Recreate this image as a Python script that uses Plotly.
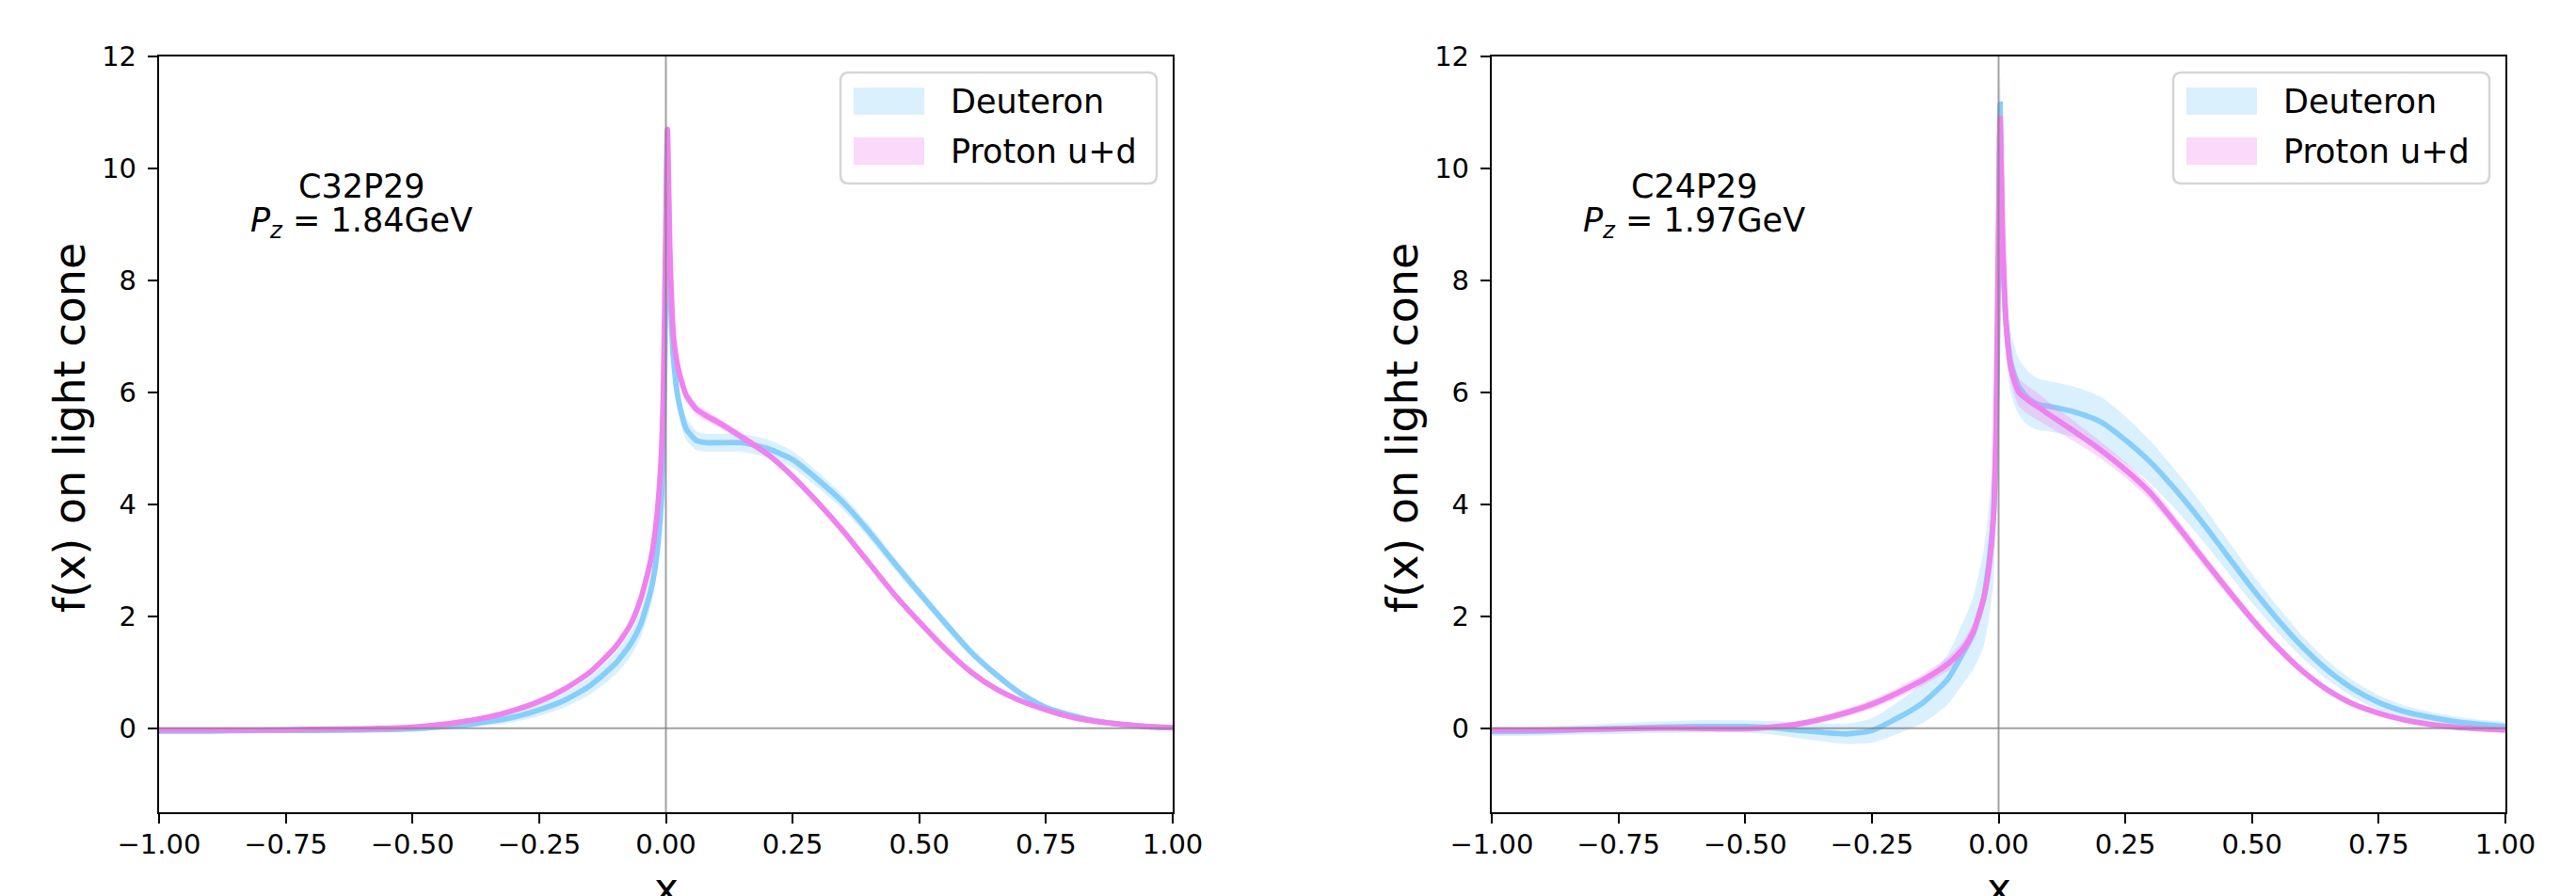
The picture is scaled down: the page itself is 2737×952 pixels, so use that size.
import numpy as np
import plotly.graph_objects as go

# ---------------- data ----------------
X = [-1.0, -0.9, -0.8, -0.7, -0.6, -0.5, -0.45, -0.4, -0.35, -0.3, -0.25, -0.2, -0.15, -0.1,
     -0.07, -0.05, -0.03, -0.02, -0.01, -0.005, 0.0, 0.003, 0.008, 0.015, 0.025, 0.04, 0.06,
     0.08, 0.1, 0.15, 0.2, 0.25, 0.3, 0.35, 0.4, 0.45, 0.5, 0.55, 0.6, 0.65, 0.7, 0.75, 0.8,
     0.85, 0.9, 0.95, 1.0]

# Left panel: C32P29, Pz = 1.84 GeV
DEUT_L = [-0.05, -0.05, -0.04, -0.04, -0.03, -0.01, 0.02, 0.06, 0.12, 0.2, 0.33, 0.5, 0.76, 1.15,
          1.5, 1.85, 2.45, 2.95, 3.9, 5.0, 8.0, 10.4, 8.0, 6.6, 5.85, 5.35, 5.14,
          5.1, 5.1, 5.1, 5.0, 4.8, 4.44, 4.03, 3.52, 2.96, 2.42, 1.89, 1.38, 0.97, 0.62, 0.37, 0.23,
          0.13, 0.07, 0.03, 0.01]
DEUT_L_ERR = [0.03, 0.03, 0.03, 0.03, 0.03, 0.03, 0.04, 0.05, 0.07, 0.09, 0.11, 0.13, 0.16, 0.2,
              0.22, 0.24, 0.28, 0.3, 0.3, 0.3, 0.3, 0.25, 0.3, 0.3, 0.25, 0.2, 0.17,
              0.16, 0.16, 0.16, 0.16, 0.15, 0.14, 0.13, 0.12, 0.11, 0.1, 0.09, 0.08, 0.07, 0.06, 0.05, 0.04,
              0.03, 0.03, 0.02, 0.02]
PROT_L = [-0.03, -0.03, -0.03, -0.02, -0.01, 0.02, 0.06, 0.12, 0.2, 0.32, 0.48, 0.7, 1.0, 1.45,
          1.85, 2.3, 3.0, 3.6, 4.7, 6.0, 9.0, 10.7, 8.5, 7.0, 6.4, 5.95, 5.7,
          5.58, 5.48, 5.2, 4.9, 4.5, 4.03, 3.52, 2.96, 2.4, 1.9, 1.43, 1.02, 0.71, 0.49, 0.33, 0.2,
          0.12, 0.07, 0.03, 0.01]
PROT_L_ERR = [0.02, 0.02, 0.02, 0.02, 0.02, 0.02, 0.02, 0.03, 0.03, 0.03, 0.04, 0.04, 0.05, 0.05,
              0.06, 0.06, 0.07, 0.08, 0.08, 0.08, 0.08, 0.08, 0.1, 0.1, 0.1, 0.1, 0.1,
              0.09, 0.08, 0.07, 0.06, 0.06, 0.05, 0.05, 0.05, 0.05, 0.04, 0.04, 0.04, 0.03, 0.03, 0.03, 0.02,
              0.02, 0.02, 0.02, 0.02]

# Right panel: C24P29, Pz = 1.97 GeV
DEUT_R = [-0.06, -0.05, -0.02, 0.01, 0.03, 0.03, 0.01, -0.03, -0.07, -0.1, -0.04, 0.18, 0.45, 0.88,
          1.35, 1.7, 2.3, 2.9, 3.8, 5.0, 8.5, 11.15, 8.6, 7.2, 6.5, 6.1, 5.88,
          5.78, 5.75, 5.65, 5.48, 5.15, 4.75, 4.25, 3.7, 3.1, 2.5, 1.95, 1.45, 1.03, 0.7, 0.46, 0.3,
          0.2, 0.12, 0.07, 0.03]
DEUT_R_ERR = [0.08, 0.08, 0.09, 0.1, 0.11, 0.11, 0.12, 0.14, 0.16, 0.18, 0.22, 0.28, 0.36, 0.45,
              0.55, 0.65, 0.85, 1.0, 1.2, 1.3, 1.0, 0.5, 0.6, 0.6, 0.55, 0.5, 0.48,
              0.46, 0.45, 0.45, 0.45, 0.42, 0.38, 0.35, 0.32, 0.29, 0.26, 0.23, 0.2, 0.17, 0.15, 0.13, 0.11,
              0.1, 0.09, 0.08, 0.07]
PROT_R = [-0.03, -0.03, -0.02, 0.0, 0.0, -0.01, 0.02, 0.07, 0.16, 0.28, 0.43, 0.63, 0.86, 1.15,
          1.42, 1.72, 2.3, 2.8, 3.8, 5.5, 9.0, 10.9, 8.8, 7.2, 6.4, 6.0, 5.85,
          5.73, 5.6, 5.3, 4.98, 4.62, 4.2, 3.65, 3.07, 2.5, 1.95, 1.45, 1.02, 0.68, 0.43, 0.27, 0.15,
          0.07, 0.02, -0.01, -0.03]
PROT_R_ERR = [0.03, 0.03, 0.03, 0.03, 0.03, 0.03, 0.04, 0.05, 0.06, 0.07, 0.08, 0.09, 0.1, 0.12,
              0.14, 0.16, 0.18, 0.2, 0.2, 0.2, 0.2, 0.15, 0.25, 0.25, 0.25, 0.25, 0.25,
              0.24, 0.22, 0.18, 0.15, 0.14, 0.13, 0.12, 0.11, 0.1, 0.09, 0.08, 0.07, 0.06, 0.05, 0.05, 0.04,
              0.04, 0.04, 0.04, 0.04]

PANEL_LABELS = ["C32P29", "C24P29"]
PZ_VALUES = ["1.84", "1.97"]
SERIES_NAMES = ["Deuteron", "Proton u+d"]
X_TICKS = [-1.0, -0.75, -0.5, -0.25, 0.0, 0.25, 0.5, 0.75, 1.0]
Y_TICKS = [0, 2, 4, 6, 8, 10, 12]

# ---------------- styling ----------------
WIN_W, WIN_H = 2737, 952
BODY = 8                      # default page margin of the browser
W, H = WIN_W - BODY, WIN_H - BODY
FONT = "DejaVu Sans"
LINE_COLORS = ["#87CEFA", "#EE82EE"]
FILL_COLORS = ["rgba(135,206,250,0.3)", "rgba(238,130,238,0.3)"]
AX_PX = [(169, 1246), (1585, 2662)]   # window pixels
TOP_PX, BOT_PX = 60, 863


def px(v):
    return (v - BODY) / W


def py(v):
    return 1 - (v - BODY) / H


def tick_text(v):
    s = f"{abs(v):.2f}"
    return ("\u2212" + s) if v < 0 else s


fig = go.Figure()

panels = [
    (DEUT_L, DEUT_L_ERR, PROT_L, PROT_L_ERR),
    (DEUT_R, DEUT_R_ERR, PROT_R, PROT_R_ERR),
]

x_arr = np.array(X)
shapes = []
annotations = []

for i, (d, de, p, pe) in enumerate(panels):
    xa = "x" if i == 0 else "x2"
    ya = "y" if i == 0 else "y2"
    for k, (m, e) in enumerate([(d, de), (p, pe)]):
        m = np.array(m)
        e = np.array(e)
        upper = m + e
        lower = m - e
        fig.add_trace(go.Scatter(
            x=np.concatenate([x_arr, x_arr[::-1]]),
            y=np.concatenate([upper, lower[::-1]]),
            fill="toself", fillcolor=FILL_COLORS[k], mode="lines",
            line=dict(width=0, shape="spline", smoothing=0.6),
            showlegend=False, hoverinfo="skip",
            xaxis=xa, yaxis=ya))
        fig.add_trace(go.Scatter(
            x=x_arr, y=m, mode="lines",
            line=dict(color=LINE_COLORS[k], width=5.8, shape="spline", smoothing=0.6),
            showlegend=False, name=SERIES_NAMES[k],
            xaxis=xa, yaxis=ya))

    # reference lines
    shapes.append(dict(type="line", xref=xa, yref=f"{ya} domain", x0=0, x1=0, y0=0, y1=1,
                       line=dict(color="rgba(128,128,128,0.75)", width=2), layer="above"))
    shapes.append(dict(type="line", xref=f"{xa} domain", yref=ya, x0=0, x1=1, y0=0, y1=0,
                       line=dict(color="rgba(128,128,128,0.75)", width=2), layer="above"))

    # panel text (two lines)
    annotations.append(dict(
        xref=xa, yref=ya, x=-0.6, y=9.68, xanchor="center", yanchor="middle",
        text=PANEL_LABELS[i], showarrow=False,
        font=dict(family=FONT, size=35, color="black")))
    annotations.append(dict(
        xref=xa, yref=ya, x=-0.6, y=9.03, xanchor="center", yanchor="middle",
        text=f"<i>P</i><sub><i>z</i></sub> = {PZ_VALUES[i]}GeV", showarrow=False,
        font=dict(family=FONT, size=35, color="black")))

    L, R = AX_PX[i]
    # y-axis title
    annotations.append(dict(
        xref="paper", yref="paper", x=px(L - 95), y=py(455),
        xanchor="center", yanchor="middle", textangle=-90, showarrow=False,
        text="f(x) on light cone", font=dict(family=FONT, size=46, color="black")))
    # x-axis title
    annotations.append(dict(
        xref="paper", yref="paper", x=px((L + R) / 2), y=py(916),
        xanchor="center", yanchor="top", showarrow=False,
        text="x", font=dict(family=FONT, size=44, color="black")))

    # legend (drawn manually, one per panel)
    x0, x1, y0, y1, r = R - 353, R - 17, 77, 195, 9
    path = (f"M {px(x0 + r)},{py(y0)} L {px(x1 - r)},{py(y0)} "
            f"Q {px(x1)},{py(y0)} {px(x1)},{py(y0 + r)} L {px(x1)},{py(y1 - r)} "
            f"Q {px(x1)},{py(y1)} {px(x1 - r)},{py(y1)} L {px(x0 + r)},{py(y1)} "
            f"Q {px(x0)},{py(y1)} {px(x0)},{py(y1 - r)} L {px(x0)},{py(y0 + r)} "
            f"Q {px(x0)},{py(y0)} {px(x0 + r)},{py(y0)} Z")
    shapes.append(dict(type="path", xref="paper", yref="paper", path=path,
                       fillcolor="rgba(255,255,255,0.8)",
                       line=dict(color="rgba(204,204,204,0.8)", width=2.6), layer="above"))
    for k, (ty0, ty1) in enumerate([(93, 122), (146, 175)]):
        shapes.append(dict(type="rect", xref="paper", yref="paper",
                           x0=px(R - 339), x1=px(R - 264), y0=py(ty1), y1=py(ty0),
                           fillcolor=FILL_COLORS[k], line=dict(width=0), layer="above"))
        annotations.append(dict(
            xref="paper", yref="paper", x=px(R - 238), y=py((ty0 + ty1) / 2 + 1),
            xanchor="left", yanchor="middle", showarrow=False, text=SERIES_NAMES[k],
            font=dict(family=FONT, size=35, color="black")))

axis_common = dict(
    showgrid=False, zeroline=False, showline=True, linecolor="black", linewidth=2.3,
    mirror=True, ticks="outside", ticklen=10, tickwidth=2.3, tickcolor="black",
    tickfont=dict(family=FONT, size=29, color="black"), automargin=False,
)

layout = dict(
    width=W, height=H,
    margin=dict(l=0, r=0, t=0, b=0, pad=0, autoexpand=False),
    paper_bgcolor="white", plot_bgcolor="white",
    showlegend=False,
    shapes=shapes, annotations=annotations,
    font=dict(family=FONT),
)
for i in range(2):
    L, R = AX_PX[i]
    sfx = "" if i == 0 else "2"
    layout[f"xaxis{sfx}"] = dict(
        axis_common, domain=[px(L), px(R)], range=[-1, 1],
        tickvals=X_TICKS, ticktext=[tick_text(v) for v in X_TICKS],
        anchor=f"y{sfx}", ticklabelstandoff=-3)
    layout[f"yaxis{sfx}"] = dict(
        axis_common, domain=[py(BOT_PX), py(TOP_PX)], range=[-1.5, 12],
        tickvals=Y_TICKS, ticktext=[str(v) for v in Y_TICKS],
        anchor=f"x{sfx}", ticklabelstandoff=6)

fig.update_layout(**layout)
fig.write_html("out.html")
